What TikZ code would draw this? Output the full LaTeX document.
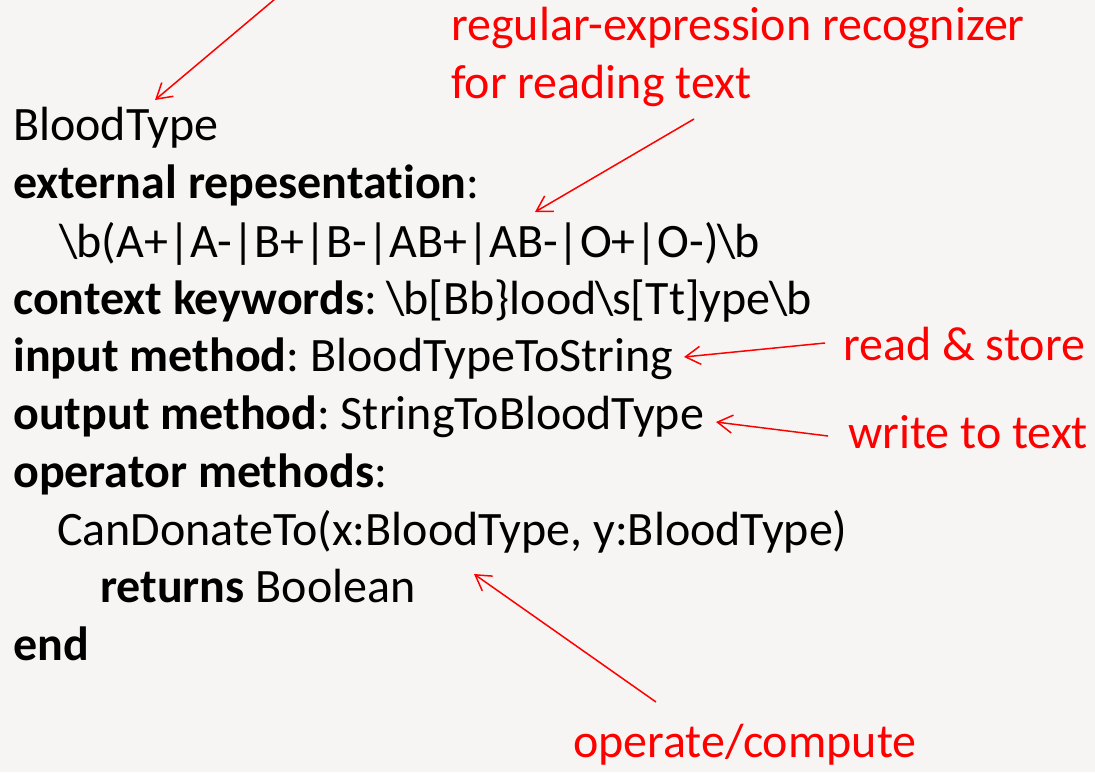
\documentclass[tikz,border=0pt]{standalone}
\usepackage{fontspec}
\setmainfont{Carlito}[Ligatures={NoCommon}]
\usetikzlibrary{arrows.meta}
\definecolor{paper}{HTML}{F6F5F3}
\definecolor{annot}{HTML}{FF0000}
% backslash with slightly tighter sidebearings
\newcommand{\bsl}{\kern-1.5pt\textbackslash\kern-1.5pt}
\begin{document}
\frenchspacing
\begin{tikzpicture}[x=1pt,y=-1pt,
  codeline/.style={anchor=base west,inner sep=0pt,text=black,font=\fontsize{48}{58}\selectfont},
  note/.style={anchor=base west,inner sep=0pt,text=annot,font=\fontsize{48}{58}\selectfont},
  pointer/.style={draw=annot,line width=1.5pt,-{Straight Barb[length=15pt,width=18pt,line width=1.5pt]}}]
  \fill[paper] (0,0) rectangle (1095,772);
  \useasboundingbox (0,0) rectangle (1095,772);

  % type declaration
  \node[codeline] (name) at (13,140) {BloodType};
  \node[codeline] (ext) at (13,198) {\textbf{external repesentation}:};
  \node[codeline] (regex) at (61,257) {\bsl b(A+|A-|B+|B-|AB+|AB-|O+|O-)\bsl b};
  \node[codeline] (ctx) at (13,314) {\textbf{context keywords}: \bsl b[Bb\}lood\bsl s[Tt]ype\bsl b};
  \node[codeline] (inm) at (13,371) {\textbf{input method}: BloodTypeToString};
  \node[codeline] (outm) at (13,429) {\textbf{output method}: StringToBloodType};
  \node[codeline] (opm) at (13,487) {\textbf{operator methods}:};
  \node[codeline] (donate) at (57,545) {CanDonateTo(x:BloodType, y:BloodType)};
  \node[codeline] (ret) at (100,602) {\textbf{returns} Boolean};
  \node[codeline] (fin) at (13,660) {\textbf{end}};

  % annotations
  \node[note] (recog) at (451,40) {regular-expression recognizer};
  \node[note] (reading) at (451,98) {for reading text};
  \node[note] (store) at (843,360) {read \& store};
  \node[note] (write) at (848,448) {write to text};
  \node[note] (compute) at (573,757) {operate/compute};

  % arrow end points
  \coordinate (topfree) at (275,-1);
  \coordinate (nameTip) at (155,100);
  \coordinate (recogTail) at (694,119);
  \coordinate (regexTip) at (535,212);
  \coordinate (storeTail) at (825,343);
  \coordinate (inTip) at (684,357);
  \coordinate (writeTail) at (828,436);
  \coordinate (outTip) at (716,422);
  \coordinate (computeTail) at (656,702);
  \coordinate (retTip) at (474,574);

  \draw[pointer] (topfree) -- (nameTip);
  \draw[pointer] (recogTail) -- (regexTip);
  \draw[pointer] (storeTail) -- (inTip);
  \draw[pointer] (writeTail) -- (outTip);
  \draw[pointer] (computeTail) -- (retTip);
\end{tikzpicture}
\end{document}
